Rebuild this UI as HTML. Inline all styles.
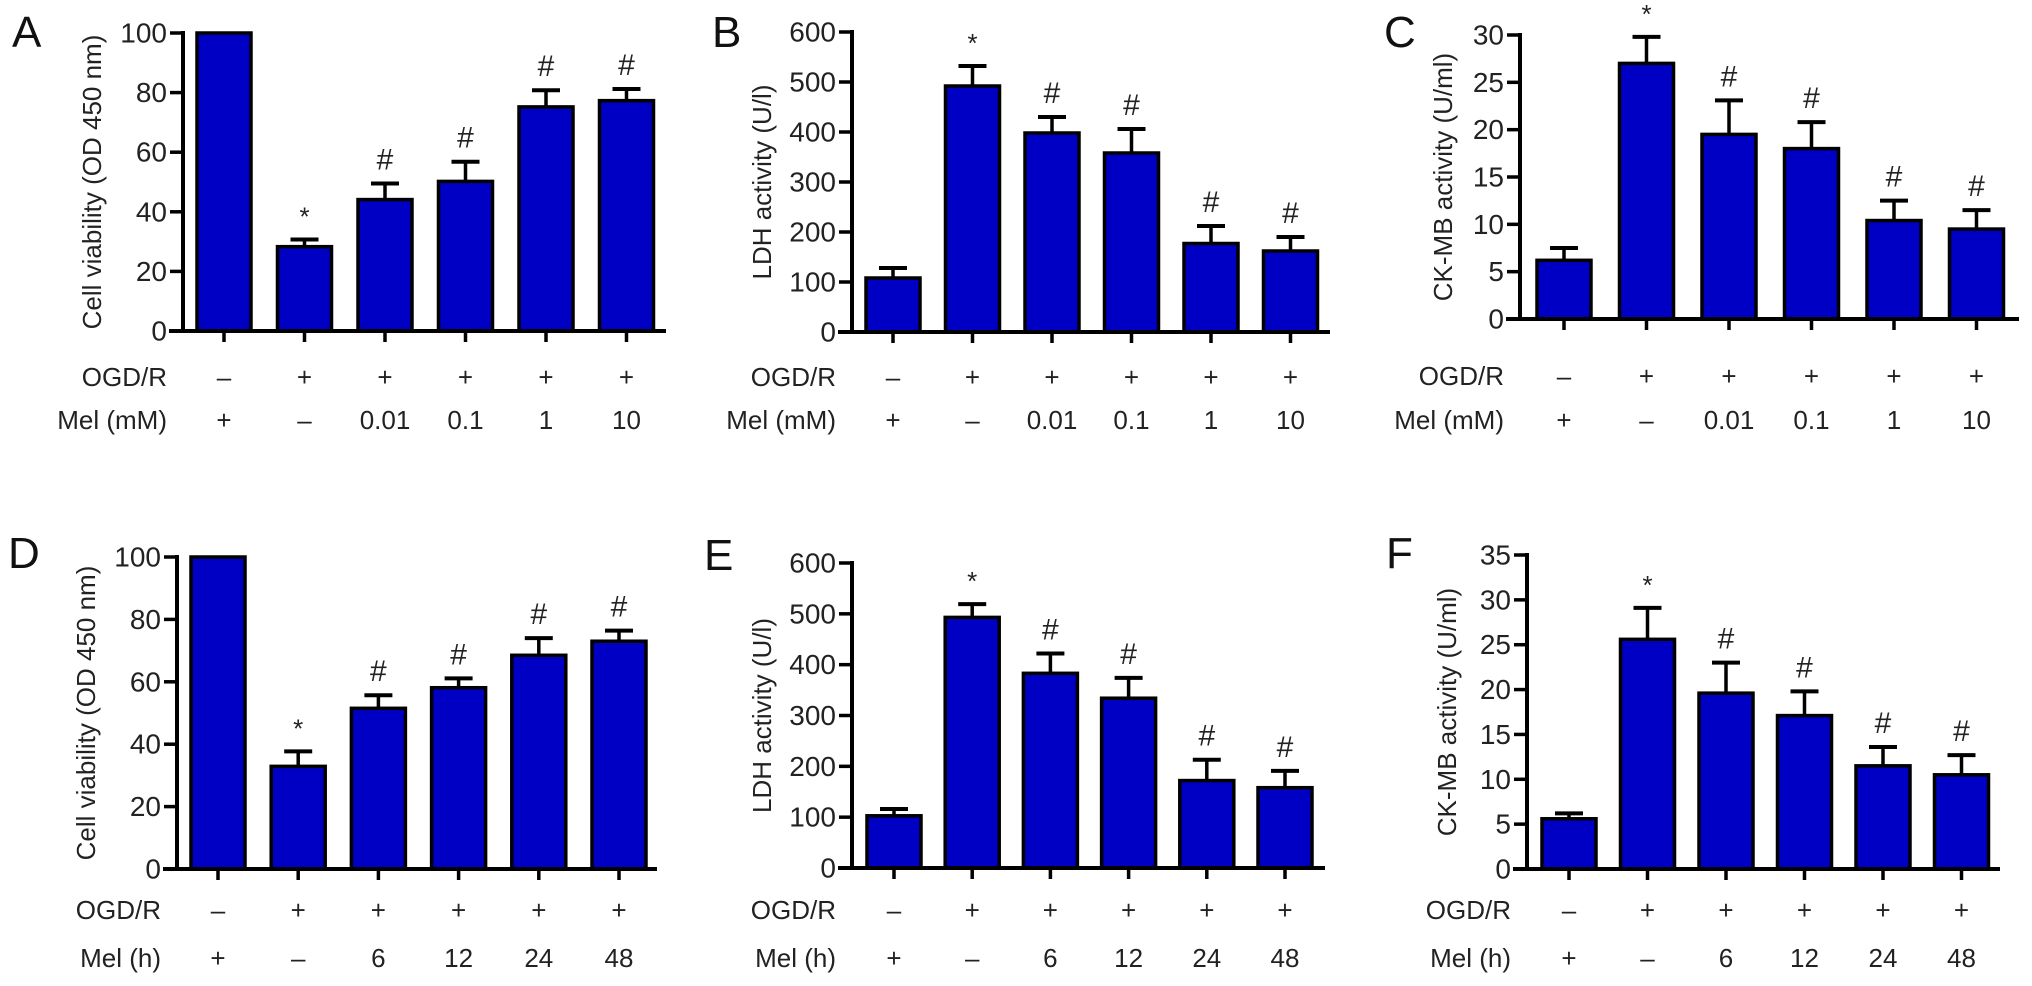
<!DOCTYPE html>
<html><head><meta charset="utf-8"><style>
html,body{margin:0;padding:0;background:#fff;}
svg{display:block;font-family:"Liberation Sans",Arial,sans-serif;}
</style></head><body>
<svg id="fig" width="2032" height="986" viewBox="0 0 2032 986"></svg>
<script>
const aVals=[100,28.3,44.1,50.2,75.2,77.3];
const aErr=[100,30.7,49.5,56.8,80.8,81.2];
const bVals=[108,492,398,358,177,162];
const bErr=[128,532,430,406,212,190];
const cVals=[6.2,27.0,19.5,18.0,10.4,9.5];
const cErr=[7.5,29.8,23.1,20.8,12.5,11.5];
const dVals=[100,32.9,51.5,58.1,68.5,73];
const dErr=[100,37.7,55.7,61.1,74,76.4];
const eVals=[102.7,493,383,334,172,158];
const eErr=[116,519,422,374,213,191];
const fVals=[5.6,25.6,19.6,17.1,11.5,10.5];
const fErr=[6.2,29.1,23.0,19.8,13.6,12.7];
const sigMarks=['','*','#','#','#','#'];
const ogdLabels=['–','+','+','+','+','+'];
const melMM=['+','–','0.01','0.1','1','10'];
const melH=['+','–','6','12','24','48'];
const ticksA=[0,20,40,60,80,100];
const ticksB=[0,100,200,300,400,500,600];
const ticksC=[0,5,10,15,20,25,30];
const ticksF=[0,5,10,15,20,25,30,35];

const NS='http://www.w3.org/2000/svg';
const svg=document.getElementById('fig');
function mk(tag,attrs,parent,text){const e=document.createElementNS(NS,tag);for(const k in attrs)e.setAttribute(k,attrs[k]);if(text!==undefined)e.textContent=text;(parent||svg).appendChild(e);return e;}

const panels=[
 {id:'a',letter:'A',lx:12,ly:47,ax:183,y0:331,yTop:33,max:100,ticks:ticksA,vals:aVals,err:aErr,c1:224,sp:80.5,end:666,title:'Cell viability (OD 450 nm)',tx:92,oy:377,my:420,mel:melMM,melName:'Mel (mM)'},
 {id:'b',letter:'B',lx:712,ly:47,ax:852,y0:332,yTop:32,max:600,ticks:ticksB,vals:bVals,err:bErr,c1:893,sp:79.5,end:1330,title:'LDH activity (U/l)',tx:762,oy:377,my:420,mel:melMM,melName:'Mel (mM)'},
 {id:'c',letter:'C',lx:1384,ly:47,ax:1520,y0:319,yTop:35,max:30,ticks:ticksC,vals:cVals,err:cErr,c1:1564,sp:82.5,end:2019,title:'CK-MB activity (U/ml)',tx:1443,oy:376,my:420,mel:melMM,melName:'Mel (mM)'},
 {id:'d',letter:'D',lx:8,ly:568,ax:177,y0:869,yTop:557,max:100,ticks:ticksA,vals:dVals,err:dErr,c1:218,sp:80.2,end:657,title:'Cell viability (OD 450 nm)',tx:86,oy:910,my:958,mel:melH,melName:'Mel (h)'},
 {id:'e',letter:'E',lx:704,ly:570,ax:852,y0:868,yTop:563,max:600,ticks:ticksB,vals:eVals,err:eErr,c1:894,sp:78.2,end:1325,title:'LDH activity (U/l)',tx:762,oy:910,my:958,mel:melH,melName:'Mel (h)'},
 {id:'f',letter:'F',lx:1386,ly:568,ax:1527,y0:869,yTop:555,max:35,ticks:ticksF,vals:fVals,err:fErr,c1:1569,sp:78.5,end:2000,title:'CK-MB activity (U/ml)',tx:1447,oy:910,my:958,mel:melH,melName:'Mel (h)'}
];

panels.forEach(p=>{
  const g=mk('g',{});
  
  
  const yS=v=>p.y0-(v/p.max)*(p.y0-p.yTop);
  const xS=i=>p.c1+i*p.sp;
  const L=mk('text',{x:p.lx,y:p.ly,'font-size':44,fill:'#111'},g,p.letter);
  
  
  p.vals.forEach((v,i)=>{
    const x=xS(i),top=yS(v),et=yS(p.err[i]);
    if(p.err[i]>v){
      const el=mk('line',{x1:x,x2:x,y1:top,y2:et,stroke:'#000','stroke-width':3.5},g);
      
      
      const cap=mk('line',{x1:x-14,x2:x+14,y1:et,y2:et,stroke:'#000','stroke-width':4},g);
      
      
    }
    const r=mk('rect',{x:x-27,y:top,width:54,height:p.y0-top,fill:'#0000c4',stroke:'#000','stroke-width':3.5},g);
    
    
    if(sigMarks[i]){
      const s=mk('text',{x:x,y:et-14,'font-size':sigMarks[i]==='*'?26:30,'text-anchor':'middle',fill:'#222'},g,sigMarks[i]);
      
      
    }
    const tk=mk('line',{x1:x,x2:x,y1:p.y0,y2:p.y0+11,stroke:'#000','stroke-width':3.5},g);
    
    
    const o=mk('text',{x:x,y:p.oy,'font-size':26,'text-anchor':'middle','dominant-baseline':'central',fill:'#222'},g,ogdLabels[i]);
    
    
    const m=mk('text',{x:x,y:p.my,'font-size':26,'text-anchor':'middle','dominant-baseline':'central',fill:'#222'},g,p.mel[i]);
    
    
  });
  const ya=mk('line',{x1:p.ax,x2:p.ax,y1:p.yTop-2,y2:p.y0+2,stroke:'#000','stroke-width':4},g);
  
  
  const xa=mk('line',{x1:p.ax-14,x2:p.end,y1:p.y0,y2:p.y0,stroke:'#000','stroke-width':4},g);
  
  
  p.ticks.forEach(t=>{
    const y=yS(t);
    const tl=mk('line',{x1:p.ax-13,x2:p.ax,y1:y,y2:y,stroke:'#000','stroke-width':3.5},g);
    
    
    const tt=mk('text',{x:p.ax-16,y:y,'font-size':28,'text-anchor':'end','dominant-baseline':'central',fill:'#222'},g,String(t));
    
    
  });
  const cy=(p.y0+p.yTop)/2;
  const ti=mk('text',{x:p.tx,y:cy,'font-size':26,'text-anchor':'middle','dominant-baseline':'central',fill:'#222',transform:'rotate(-90 '+p.tx+' '+cy+')'},g,p.title);
  
  
  const on=mk('text',{x:p.ax-16,y:p.oy,'font-size':26,'text-anchor':'end','dominant-baseline':'central',fill:'#222'},g,'OGD/R');
  
  
  const mn=mk('text',{x:p.ax-16,y:p.my,'font-size':26,'text-anchor':'end','dominant-baseline':'central',fill:'#222'},g,p.melName);
  
  
});
</script>
</body></html>
